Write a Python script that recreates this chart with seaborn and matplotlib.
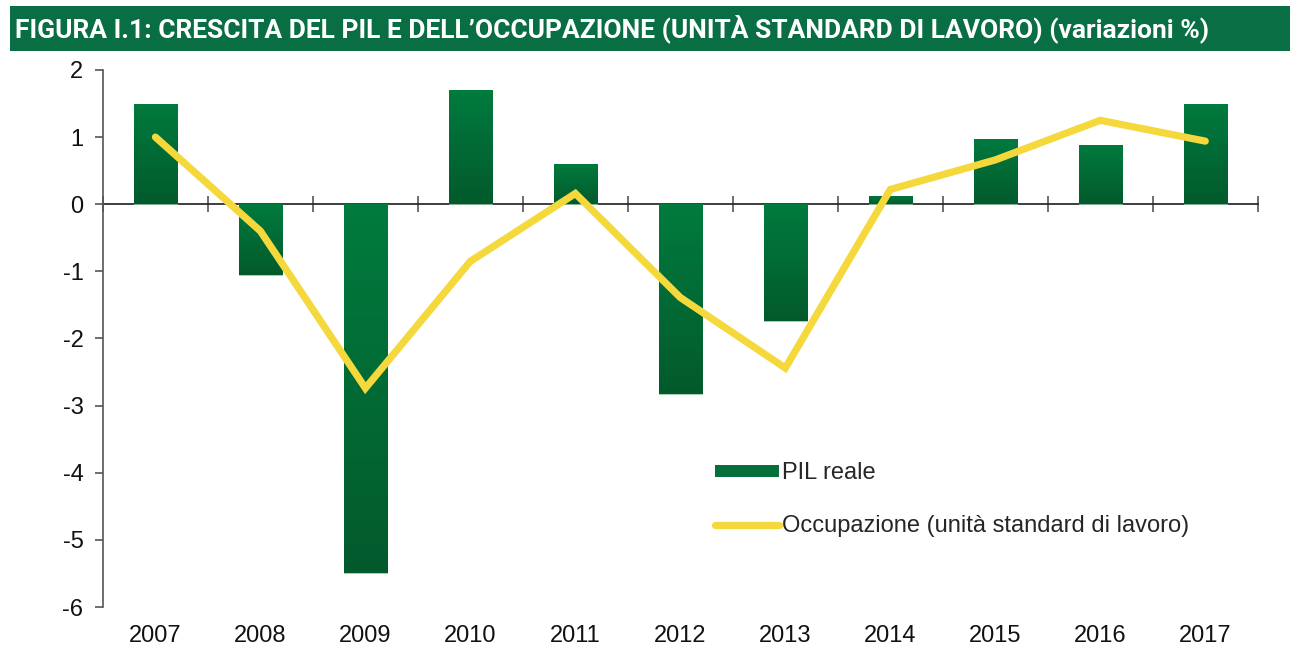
import numpy as np
import pandas as pd
import matplotlib.pyplot as plt
import seaborn as sns
from matplotlib.patches import Patch, Rectangle
from matplotlib.lines import Line2D
from matplotlib.colors import LinearSegmentedColormap

# Data
years = ['2007', '2008', '2009', '2010', '2011', '2012', '2013', '2014', '2015', '2016', '2017']
pil_reale = [1.49, -1.06, -5.50, 1.70, 0.60, -2.83, -1.74, 0.12, 0.97, 0.88, 1.49]
occupazione = [1.00, -0.40, -2.74, -0.85, 0.16, -1.39, -2.44, 0.22, 0.66, 1.25, 0.94]

title = "FIGURA I.1: CRESCITA DEL PIL E DELL\u2019OCCUPAZIONE (UNIT\u00c0 STANDARD DI LAVORO) (variazioni %)"

sns.set_theme(style="white")
plt.rcParams['font.family'] = ['Liberation Sans', 'DejaVu Sans']

df = pd.DataFrame({'Anno': years, 'PIL': pil_reale, 'Occ': occupazione})

fig = plt.figure(figsize=(12.9, 6.49), dpi=100)
ax = fig.add_axes([0.0798, 0.0647, 0.8952, 0.8275])

# Bars (gradient filled afterwards)
sns.barplot(data=df, x='Anno', y='PIL', color='#05703a', width=0.41, ax=ax,
            saturation=1, zorder=2)

grad = LinearSegmentedColormap.from_list('g', ['#007b3e', '#035a2c'])
gimg = np.linspace(0, 1, 256).reshape(-1, 1)
for p in ax.patches:
    x0, y0 = p.get_x(), p.get_y()
    w, h = p.get_width(), p.get_height()
    ylo, yhi = min(y0, y0 + h), max(y0, y0 + h)
    p.set_facecolor('none')
    p.set_edgecolor('#8fc8a4')
    p.set_linewidth(0.6)
    im = ax.imshow(gimg, cmap=grad, aspect='auto', origin='upper',
                   extent=[x0, x0 + w, ylo, yhi], zorder=2)
    clip = Rectangle((x0, ylo), w, yhi - ylo, transform=ax.transData)
    im.set_clip_path(clip)

# Line
sns.lineplot(x=np.arange(len(years)), y=occupazione, color='#f4d83c', linewidth=5.2,
             ax=ax, zorder=4, solid_capstyle='round', solid_joinstyle='miter')

ax.set_xlim(-0.5, len(years) - 0.5)
ax.set_ylim(-6, 2)
ax.set_yticks(range(-6, 3))
ax.set_yticklabels([str(v) for v in range(-6, 3)])
ax.set_xlabel('')
ax.set_ylabel('')

for s in ['top', 'right', 'bottom']:
    ax.spines[s].set_visible(False)
ax.spines['left'].set_color('#555555')
ax.spines['left'].set_linewidth(1.2)
ax.tick_params(axis='y', direction='out', length=6, width=1.2, color='#555555',
               labelsize=17, labelcolor='#111111', pad=8, left=True)
ax.tick_params(axis='x', length=0, labelsize=17, labelcolor='#111111', pad=13)

# Zero axis with category-boundary ticks
zero_ax = ax.secondary_xaxis(location=(0 - (-6)) / 8)
zero_ax.spines['bottom'].set_color('#555555')
zero_ax.spines['bottom'].set_linewidth(1.2)
zero_ax.set_xticks(np.arange(-0.5, len(years), 1.0))
zero_ax.set_xticklabels([])
zero_ax.tick_params(axis='x', direction='out', length=6, width=1.2, color='#555555', bottom=True)

# Legend
handles = [Patch(facecolor='#05703a', edgecolor='none'),
           Line2D([0], [0], color='#f4d83c', linewidth=5.2, solid_capstyle='round')]
leg = ax.legend(handles, ['PIL reale', 'Occupazione (unit\u00e0 standard di lavoro)'],
                loc='upper left', bbox_to_anchor=(0.522, 0.287), frameon=False,
                fontsize=17, handlelength=2.7, handleheight=0.45, handletextpad=0.15,
                labelspacing=1.3, borderaxespad=0)

# Title banner
fig.patches.append(Rectangle((0.0078, 0.921), 0.9922, 0.0705, transform=fig.transFigure,
                             facecolor='#0a6e44', edgecolor='none', zorder=0))
fig.text(0.0116, 0.9555, title, color='white', fontsize=19, fontweight='bold',
         fontstretch='condensed', va='center', ha='left',
         family=['Roboto', 'Liberation Sans', 'DejaVu Sans'])

fig.savefig('out.png', dpi=100)
